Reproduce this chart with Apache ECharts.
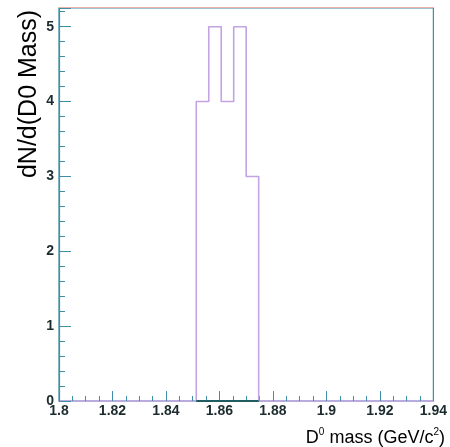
<!DOCTYPE html>
<html>
<head>
<meta charset="utf-8">
<script src="https://cdn.jsdelivr.net/npm/echarts@6/dist/echarts.min.js"></script>
<style>
  html, body { margin: 0; padding: 0; background: #ffffff; }
  #chart { width: 450px; height: 447px; }
</style>
</head>
<body>
<div id="chart"></div>
<script>
// D0 candidate mass histogram: 30 bins over 1.80 - 1.94 GeV/c^2, only the filled bins listed
const binEdges = [1.85133, 1.856, 1.86067, 1.86533, 1.87, 1.87467];
const binCounts = [4, 5, 4, 5, 3];

const xRange = [1.8, 1.94];
const xTickStep = 0.02;
const yRange = [0, 5.25];
const yTickStep = 1;

const yTitle = 'dN/d(D0 Mass)';

// Outline of the histogram as a staircase path through the bin edges
const outline = [[binEdges[0], 0]];
binCounts.forEach((c, i) => {
  outline.push([binEdges[i], c]);
  outline.push([binEdges[i + 1], c]);
});
outline.push([binEdges[binEdges.length - 1], 0]);

const baseline = [[binEdges[0], 0], [binEdges[binEdges.length - 1], 0]];

const teal = '#3d8ea6';
const lavender = '#c3a3e2';
const labelFont = { fontFamily: 'Liberation Sans', fontWeight: 'bold', fontSize: 14, color: '#1c2b2e' };

const chart = echarts.init(document.getElementById('chart'), null, { renderer: 'canvas' });

chart.setOption({
  animation: false,
  backgroundColor: '#ffffff',
  grid: {
    left: 59, right: 13, top: 8, bottom: 46,
    show: true, borderColor: teal, borderWidth: 1.2, backgroundColor: 'transparent'
  },
  xAxis: [{
    type: 'value',
    min: xRange[0], max: xRange[1], interval: xTickStep,
    axisLine: { show: true, onZero: false, lineStyle: { color: lavender, width: 1.5 } },
    axisTick: { show: true, inside: true, length: 10, lineStyle: { color: teal, width: 1 } },
    minorTick: { show: true, splitNumber: 4, length: 5, lineStyle: { color: teal, width: 1 } },
    splitLine: { show: false },
    axisLabel: Object.assign({ margin: 3, showMinLabel: true, showMaxLabel: true }, labelFont)
  }, {
    type: 'value', position: 'top',
    min: xRange[0], max: xRange[1],
    axisLine: { show: true, onZero: false, lineStyle: { color: '#eab3aa', width: 1.2 } },
    offset: 1,
    axisTick: { show: false }, axisLabel: { show: false }, splitLine: { show: false }
  }],
  yAxis: {
    type: 'value',
    min: yRange[0], max: yRange[1], interval: yTickStep,
    axisLine: { show: true, onZero: false, lineStyle: { color: teal, width: 1.2 } },
    axisTick: { show: true, inside: true, length: 12, lineStyle: { color: teal, width: 1 } },
    minorTick: { show: true, splitNumber: 5, length: 6, lineStyle: { color: teal, width: 1 } },
    splitLine: { show: false },
    axisLabel: Object.assign({
      margin: 5,
      formatter: v => (Number.isInteger(v) ? String(v) : '')
    }, labelFont)
  },
  series: [{
    type: 'line',
    data: outline,
    showSymbol: false,
    silent: true,
    lineStyle: { color: lavender, width: 1.6 },
    z: 3
  }, {
    type: 'line',
    data: baseline,
    showSymbol: false,
    silent: true,
    lineStyle: { color: '#1f5d60', width: 1.8 },
    z: 4
  }],
  graphic: [{
    type: 'text',
    x: 29, y: 94,
    rotation: Math.PI / 2,
    style: {
      text: yTitle,
      font: '25px "Liberation Sans"',
      fill: '#000000',
      align: 'center',
      verticalAlign: 'middle'
    }
  }, {
    type: 'text',
    x: 445, y: 437,
    style: {
      text: '{n|D}{s|0}{n| mass (GeV/c}{s|2}{n|)}',
      align: 'right',
      verticalAlign: 'middle',
      rich: {
        n: { fontFamily: 'Liberation Sans', fontSize: 18, fill: '#000000', verticalAlign: 'bottom', lineHeight: 20 },
        s: { fontFamily: 'Liberation Sans', fontSize: 10, fill: '#000000', verticalAlign: 'top', lineHeight: 20, padding: [0, 0, 8, 0] }
      }
    }
  }]
});
</script>
</body>
</html>
